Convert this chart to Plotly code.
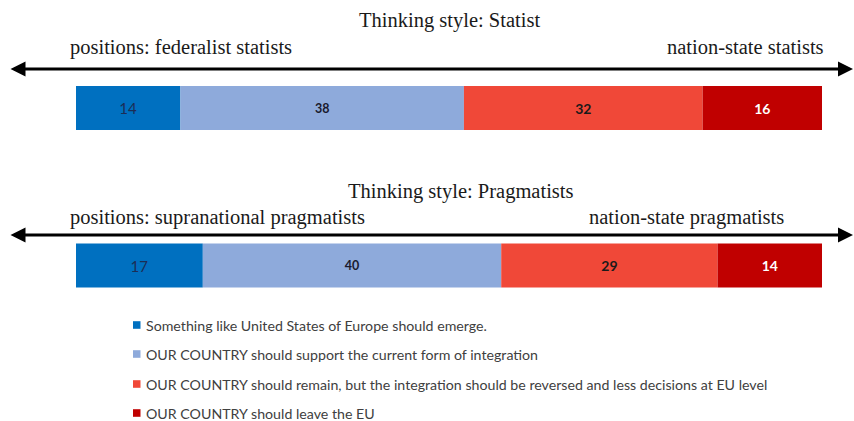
import plotly.graph_objects as go

# Survey shares (percent) for each thinking style
groups = ["Statist", "Pragmatists"]
categories = [
    "Something like United States of Europe should emerge.",
    "OUR COUNTRY should support the current form of integration",
    "OUR COUNTRY should remain, but the integration should be reversed and less decisions at EU level",
    "OUR COUNTRY should leave the EU",
]
statist_values = [14, 38, 32, 16]
pragmatist_values = [17, 40, 29, 14]
left_labels = ["positions: federalist statists", "positions: supranational pragmatists"]
right_labels = ["nation-state statists", "nation-state pragmatists"]

colors = ["#0070c0", "#8eaadb", "#f04838", "#c00000"]
text_colors = ["#1c2d55", "#1a1a2e", "#1a1a1a", "#ffffff"]
text_weights = ["normal", "bold", "bold", "bold"]
text_sizes = [15, 12.5, 14, 14]

W, H = 854, 421
bar_rows = [108, 265.5]  # row centres in pixel space (y axis reversed)


def px(x):
    return x / W


def py(y):
    return 1 - y / H


fig = go.Figure()
series = [statist_values, pragmatist_values]
for ci, cat in enumerate(categories):
    xs, bases, ys = [], [], []
    for gi, vals in enumerate(series):
        xs.append(vals[ci])
        bases.append(sum(vals[:ci]))
        ys.append(bar_rows[gi])
    fig.add_trace(go.Bar(
        x=xs, y=ys, base=bases, orientation="h", name=cat,
        marker=dict(color=colors[ci], line=dict(width=0)),
        width=44,
        text=[str(v) for v in xs], textposition="inside",
        insidetextanchor="middle",
        textfont=dict(family="Lato", size=text_sizes[ci], color=text_colors[ci],
                      weight=text_weights[ci]),
        showlegend=False, hoverinfo="skip",
    ))

fig.update_layout(
    width=W, height=H,
    margin=dict(l=0, r=0, t=0, b=0),
    paper_bgcolor="white", plot_bgcolor="white",
    barmode="overlay",
    uniformtext=dict(mode=False),
    xaxis=dict(domain=[px(76), px(822)], range=[0, 100], visible=False, fixedrange=True),
    yaxis=dict(domain=[0, 1], range=[H, 0], visible=False, fixedrange=True),
    showlegend=False,
)

serif = dict(family="Liberation Serif, Times New Roman, serif", size=20.5, color="#1a1a1a")

titles = [("Thinking style: Statist", 449, 21), ("Thinking style: Pragmatists", 461, 192)]
for text, x, y in titles:
    fig.add_annotation(text=text, x=px(x), y=py(y), xref="paper", yref="paper",
                       xanchor="center", yanchor="middle", showarrow=False, font=serif)

label_rows = [47, 217]
for i in range(2):
    fig.add_annotation(text=left_labels[i], x=px(68), y=py(label_rows[i]), xref="paper", yref="paper",
                       xanchor="left", yanchor="middle", showarrow=False, font=serif)
    fig.add_annotation(text=right_labels[i], x=px([826, 786][i]), y=py(label_rows[i]), xref="paper",
                       yref="paper", xanchor="right", yanchor="middle", showarrow=False, font=serif)

# double-headed axis arrows above each bar
for ay_pix in [69, 235]:
    fig.add_annotation(x=px(853), y=py(ay_pix), ax=-844, ay=0,
                       xref="paper", yref="paper", axref="pixel", ayref="pixel",
                       text="", showarrow=True, arrowhead=2, startarrowhead=2,
                       arrowside="end+start", arrowsize=1, startarrowsize=1,
                       arrowwidth=3, arrowcolor="black")

# legend drawn as swatches plus labels
legend_rows = [325, 354, 384, 413]
for ci, cat in enumerate(categories):
    y = legend_rows[ci]
    fig.add_shape(type="rect", xref="paper", yref="paper",
                  x0=px(133), x1=px(140.5), y0=py(y + 3.8), y1=py(y - 3.8),
                  fillcolor=colors[ci], line=dict(width=0))
    fig.add_annotation(text=cat, x=px(144), y=py(y), xref="paper", yref="paper",
                       xanchor="left", yanchor="middle", showarrow=False,
                       font=dict(family="Lato", size=14.2, color="#404040"))

fig.write_html("out.html")
